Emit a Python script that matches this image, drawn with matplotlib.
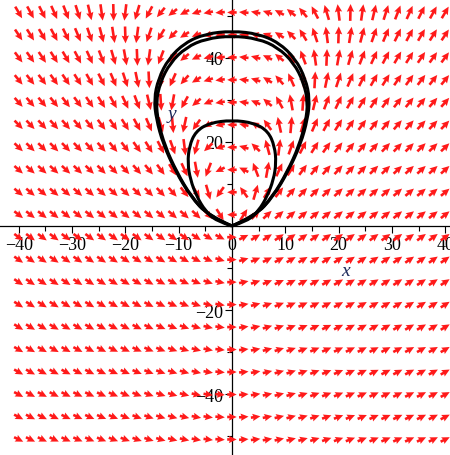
import numpy as np
import matplotlib
matplotlib.use('Agg')
import matplotlib.pyplot as plt
from matplotlib.path import Path
from matplotlib.patches import PathPatch
from matplotlib.ticker import MultipleLocator, FixedLocator

# direction field of  x' = |x| - K*y,  y' = M*x
K = 0.43
M = 0.43

X_COLS = np.linspace(-40, 40, 37)        # arrow grid
Y_ROWS = np.linspace(-50.8, 50.8, 20)

# closed orbits through the origin: left half, origin -> top (mirrored for the right half)
OUTER_X = [0.0, -4.4, -7.8, -10.6, -12.9, -14.2, -14.6, -13.8, -11.9, -8.8, -5.0, 0.0]
OUTER_Y = [0.0, 2.4, 7.1, 13.1, 19.5, 25.5, 30.2, 35.0, 39.8, 43.6, 45.7, 46.4]
OUTER_SCALES = [1.0, 0.975]
INNER_X = [0.0, -3.0, -5.0, -6.6, -7.8, -8.3, -8.0, -6.8, -4.2, 0.0]
INNER_Y = [0.0, 1.2, 3.6, 7.0, 11.0, 15.0, 19.0, 22.5, 24.5, 25.2]

X_TICKS = [-40, -30, -20, -10, 0, 10, 20, 30, 40]
Y_TICKS = [-40, -20, 20, 40]


def field(x, y):
    return np.abs(x) - K * y, M * x


def loop_path(hx, hy, s=1.0):
    hx = np.asarray(hx) * s
    hy = np.asarray(hy) * s
    # left half going up, then the mirrored right half coming back down
    px = np.concatenate([hx, -hx[::-1][1:]])
    py = np.concatenate([hy, hy[::-1][1:]])
    pts = np.column_stack([px, py])
    verts = [pts[0]]
    codes = [Path.MOVETO]
    for i in range(1, len(pts) - 1):
        mid = (pts[i] + pts[i + 1]) / 2 if i < len(pts) - 2 else pts[i + 1]
        verts += [pts[i], mid]
        codes += [Path.CURVE3, Path.CURVE3]
    return Path(verts, codes)


fig = plt.figure(figsize=(4.5, 4.56), dpi=100)
ax = fig.add_axes([0, 0, 1, 1])
ax.set_xlim(-43.5, 40.9)
ax.set_ylim(-54.5, 54.0)

# direction field, one arrow per grid cell
XX, YY = np.meshgrid(X_COLS, Y_ROWS)
F, G = field(XX, YY)
n = np.hypot(F, G)
n[n == 0] = 1
cw = X_COLS[1] - X_COLS[0]
ch = Y_ROWS[1] - Y_ROWS[0]
U = F / n * cw * 0.8
V = G / n * ch * 0.75
ax.quiver(XX, YY, U, V, angles='xy', scale_units='xy', scale=1, pivot='middle',
          color='#ff1a1a', width=0.0058, headwidth=2.8, headlength=3.0,
          headaxislength=2.7, zorder=2)

for s in OUTER_SCALES:
    ax.add_patch(PathPatch(loop_path(OUTER_X, OUTER_Y, s), fill=False,
                           edgecolor='black', lw=2.2, zorder=3))
ax.add_patch(PathPatch(loop_path(INNER_X, INNER_Y), fill=False,
                       edgecolor='black', lw=2.2, zorder=3))

# axes through the origin
for side in ('top', 'right'):
    ax.spines[side].set_visible(False)
for side in ('left', 'bottom'):
    ax.spines[side].set_position(('data', 0))
    ax.spines[side].set_linewidth(0.9)
    ax.spines[side].set_zorder(1)

ax.xaxis.set_major_locator(FixedLocator(X_TICKS))
ax.xaxis.set_minor_locator(MultipleLocator(5))
ax.yaxis.set_major_locator(FixedLocator(Y_TICKS))
ax.yaxis.set_minor_locator(MultipleLocator(10))
ax.tick_params(which='major', direction='out', length=5, width=0.8, color='black')
ax.tick_params(which='minor', direction='out', length=3.5, width=0.8, color='black')
ax.tick_params(axis='x', pad=2)
ax.tick_params(axis='y', pad=1)

tick_font = dict(family='Liberation Serif', size=13)
ax.set_xticklabels([str(t).replace('-', '\u2212') for t in X_TICKS], **tick_font)
ax.set_yticklabels([str(t).replace('-', '\u2212') for t in Y_TICKS], **tick_font)

ax.text(21.3, -10.7, 'x', family='Liberation Serif', style='italic', size=14,
        color='#1d2a5c', ha='center', va='center')
ax.text(-11.2, 26.7, 'y', family='Liberation Serif', style='italic', size=14,
        color='#1d2a5c', ha='center', va='center')

fig.savefig('out.png', dpi=100)
